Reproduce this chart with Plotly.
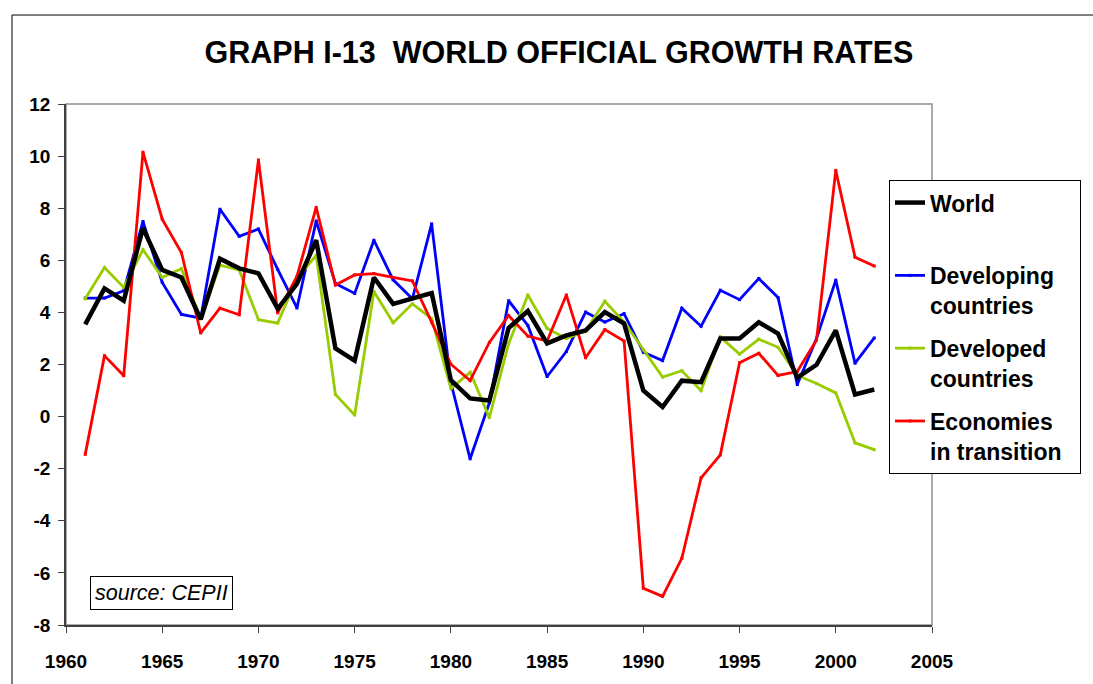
import plotly.graph_objects as go

years = list(range(1961, 2003))

world = [3.54, 4.92, 4.45, 7.24, 5.63, 5.34, 3.73, 6.06, 5.69, 5.50,
         4.14, 5.10, 6.77, 2.62, 2.15, 5.34, 4.33, 4.52, 4.74, 1.40,
         0.70, 0.62, 3.40, 4.05, 2.81, 3.12, 3.31, 4.01, 3.57, 1.00,
         0.37, 1.38, 1.32, 3.00, 3.00, 3.62, 3.19, 1.50, 1.99, 3.31,
         0.85, 1.04]

developing = [4.55, 4.55, 4.83, 7.49, 5.15, 3.92, 3.78, 7.96, 6.92, 7.20,
              5.65, 4.17, 7.51, 5.11, 4.73, 6.77, 5.25, 4.52, 7.40, 1.30,
              -1.62, 0.53, 4.45, 3.50, 1.54, 2.50, 4.01, 3.63, 3.95, 2.47,
              2.15, 4.16, 3.47, 4.85, 4.49, 5.30, 4.57, 1.23, 3.00, 5.24,
              2.05, 3.02]

developed = [4.52, 5.72, 4.96, 6.41, 5.34, 5.68, 3.76, 5.81, 5.63, 3.72,
             3.59, 5.30, 6.19, 0.85, 0.06, 4.80, 3.60, 4.33, 3.76, 1.08,
             1.70, -0.04, 2.80, 4.67, 3.38, 3.00, 3.28, 4.43, 3.63, 2.56,
             1.52, 1.76, 1.00, 3.06, 2.40, 2.97, 2.66, 1.58, 1.27, 0.91,
             -1.01, -1.27]

transition = [-1.45, 2.34, 1.57, 10.15, 7.58, 6.29, 3.21, 4.16, 3.91, 9.85,
              3.98, 5.38, 8.03, 5.05, 5.44, 5.49, 5.34, 5.21, 3.63, 2.01,
              1.38, 2.85, 3.88, 3.09, 2.90, 4.67, 2.26, 3.34, 2.90, -6.59,
              -6.90, -5.44, -2.35, -1.47, 2.07, 2.43, 1.58, 1.73, 2.94, 9.45,
              6.12, 5.78]

series_names = ["World<br>\u00a0", "Developing<br>countries",
                "Developed<br>countries", "Economies<br>in transition\u00a0\u00a0"]
series_values = [world, developing, developed, transition]
series_colors = ["#000000", "#0000FF", "#99CC00", "#FF0000"]
series_widths = [4.5, 2.8, 2.8, 2.8]

x_ticks = [1960, 1965, 1970, 1975, 1980, 1985, 1990, 1995, 2000, 2005]
y_ticks = [-8, -6, -4, -2, 0, 2, 4, 6, 8, 10, 12]

FONT = "Liberation Sans, Arial, sans-serif"

fig = go.Figure()
order = [1, 2, 3, 0]  # World drawn last (on top)
for i in order:
    fig.add_trace(go.Scatter(
        x=years, y=series_values[i], name=series_names[i],
        mode="lines+markers" if i != 0 else "lines",
        line=dict(color=series_colors[i], width=series_widths[i]),
        marker=dict(size=3, symbol="square", color=series_colors[i]),
        legendgroup=str(i), legendrank=i + 1,
    ))

L, R, T, B = 66, 161, 104, 53
PW, PH = 1093 - L - R, 684 - T - B

def px_x(p):
    return (p - L) / PW

def px_y(p):
    return (684 - B - p) / PH

tickfont = dict(family=FONT, size=19, color="#000000", weight="bold")

fig.update_layout(
    width=1093, height=684,
    margin=dict(l=L, r=R, t=T, b=B),
    paper_bgcolor="white", plot_bgcolor="white",
    title=dict(text="<b>GRAPH I-13 \u00a0WORLD OFFICIAL GROWTH RATES</b>",
               font=dict(family=FONT, size=30.5, color="#000000"),
               x=px_x(559), xref="paper", xanchor="center",
               y=1 - 52 / 684, yref="container", yanchor="middle"),
    xaxis=dict(range=[1960, 2005], tickvals=x_ticks, ticktext=[str(v) for v in x_ticks],
               showgrid=False, zeroline=False, showline=True, linecolor="#404040", linewidth=1.5,
               ticks="outside", ticklen=6, tickcolor="#404040",
               tickfont=tickfont, ticklabelstandoff=12),
    yaxis=dict(range=[-8, 12], tickvals=y_ticks, ticktext=[str(v) for v in y_ticks],
               showgrid=False, zeroline=False, showline=True, linecolor="#404040", linewidth=1.5,
               ticks="outside", ticklen=6, tickcolor="#404040",
               tickfont=tickfont, ticklabelstandoff=4),
    legend=dict(x=px_x(889), y=px_y(181), xanchor="left", yanchor="top",
                bordercolor="#000000", borderwidth=1, bgcolor="white",
                font=dict(family=FONT, size=23, color="#000000", weight="bold"),
                valign="top", tracegroupgap=10, traceorder="grouped"),
    showlegend=True,
)

# plot area border (gray top/right)
fig.add_shape(type="rect", xref="paper", yref="paper", x0=0, x1=1, y0=0, y1=1,
              line=dict(color="#909090", width=1.5), layer="below")
# outer chart area border (left and top)
fig.add_shape(type="line", xref="paper", yref="paper",
              x0=px_x(12), x1=px_x(1100), y0=px_y(14), y1=px_y(14),
              line=dict(color="#000000", width=1))
fig.add_shape(type="line", xref="paper", yref="paper",
              x0=px_x(12), x1=px_x(12), y0=px_y(14), y1=px_y(700),
              line=dict(color="#000000", width=1))

fig.add_annotation(text="<i>source: CEPII</i>", xref="paper", yref="paper",
                   x=px_x(161), y=px_y(599), xanchor="center", yanchor="middle",
                   showarrow=False,
                   font=dict(family=FONT, size=21.5, color="#000000"),
                   bordercolor="#000000", borderwidth=1, borderpad=4, bgcolor="white")

fig.write_html("out.html", config={"displayModeBar": False},
               post_script="document.body.style.margin='0';")
